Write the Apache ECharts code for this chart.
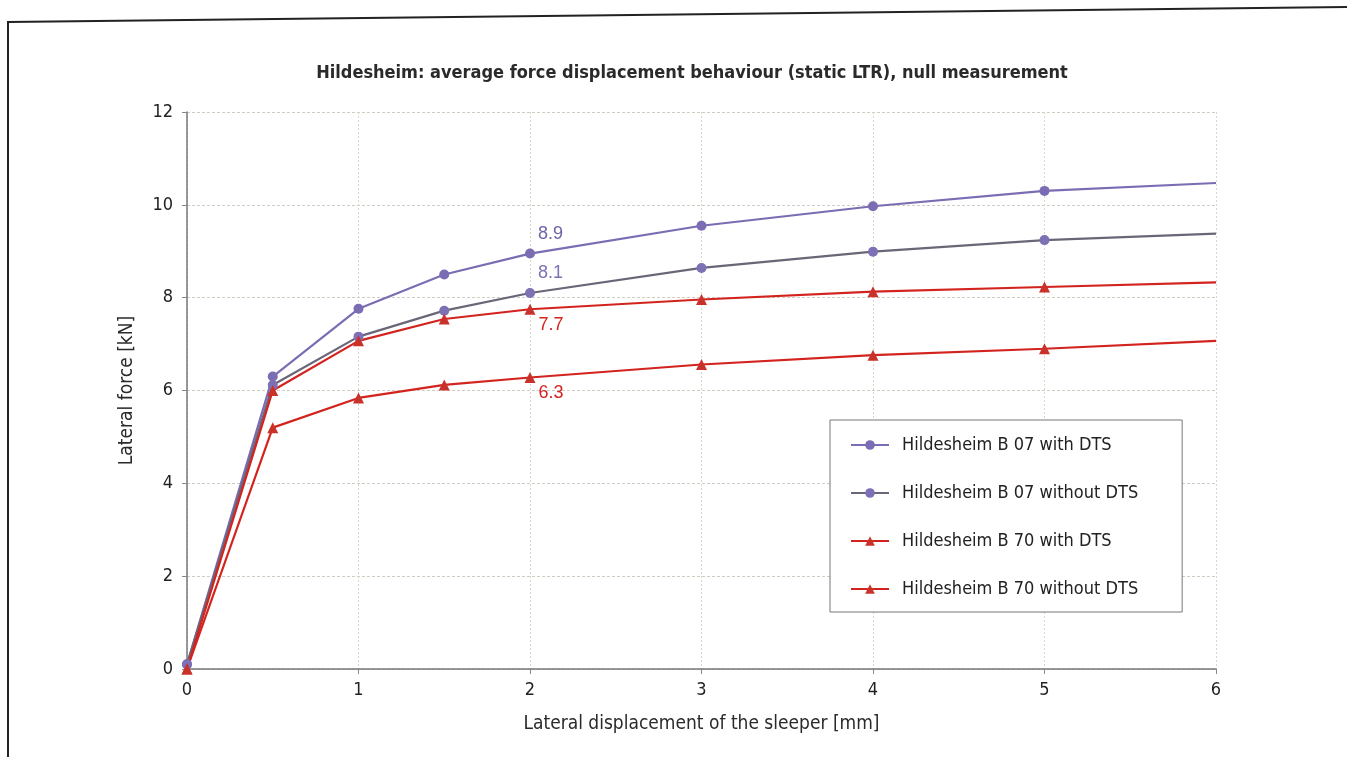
<!DOCTYPE html>
<html>
<head>
<meta charset="utf-8">
<script src="https://cdn.jsdelivr.net/npm/echarts@6/dist/echarts.min.js"></script>
<style>
  html, body { margin: 0; padding: 0; background: #fff; }
  #chart { width: 1347px; height: 757px; }
</style>
</head>
<body>
<div id="chart"></div>
<script>
const FONT = '"DejaVu Sans Condensed", "Liberation Sans", sans-serif';

// displacement [mm]
const displacement = [0, 0.5, 1, 1.5, 2, 3, 4, 5, 6];
const seriesNames = [
  'Hildesheim B 07 with DTS',
  'Hildesheim B 07 without DTS',
  'Hildesheim B 70 with DTS',
  'Hildesheim B 70 without DTS'
];
// lateral force [kN]
const b07With = [0.1, 6.3, 7.76, 8.5, 8.95, 9.55, 9.97, 10.3, 10.47];
const b07Without = [0.1, 6.12, 7.16, 7.72, 8.1, 8.64, 8.99, 9.24, 9.38];
const b70With = [0, 6.0, 7.07, 7.54, 7.75, 7.96, 8.13, 8.23, 8.33];
const b70Without = [0, 5.2, 5.84, 6.12, 6.28, 6.56, 6.76, 6.9, 7.07];
const labelIndex = 4;
const yTicks = [0, 2, 4, 6, 8, 10, 12];
const xTicks = [0, 1, 2, 3, 4, 5, 6];

const chart = echarts.init(document.getElementById('chart'));

function makeSeries(name, values, lineColor, markColor, symbol, labelText, labelDy, labelColor) {
  const last = values.length - 1;
  return {
    name: name,
    type: 'line',
    symbol: symbol,
    symbolSize: (v, p) => (p.dataIndex === last ? 0 : (symbol === 'circle' ? 10 : 11)),
    lineStyle: { color: lineColor, width: 2.2 },
    itemStyle: { color: markColor },
    data: displacement.map((x, i) => {
      const item = { value: [x, values[i]] };
      if (i === labelIndex) {
        item.label = {
          show: true,
          formatter: labelText,
          position: 'right',
          offset: [-2, labelDy],
          color: labelColor,
          fontSize: 18,
          fontFamily: '"Liberation Sans", Arial, sans-serif'
        };
      }
      return item;
    }),
    z: 3
  };
}

const option = {
  animation: false,
  backgroundColor: '#fff',
  title: {
    text: 'Hildesheim: average force displacement behaviour (static LTR), null measurement',
    left: 687,
    textAlign: 'center',
    top: 59,
    textStyle: { fontFamily: FONT, fontSize: 18, fontWeight: 'bold', color: '#2a2a2a' }
  },
  grid: { left: 187, right: 131, top: 112, bottom: 88 },
  legend: {
    orient: 'vertical',
    left: 830,
    top: 420,
    padding: [16, 44, 14, 20],
    itemGap: 30,
    itemWidth: 38,
    itemHeight: 12,
    borderColor: '#777',
    borderWidth: 1,
    backgroundColor: '#fff',
    textStyle: { fontFamily: FONT, fontSize: 18, color: '#222', padding: [0, 0, 0, 8] },
    data: seriesNames
  },
  xAxis: {
    type: 'value',
    min: xTicks[0],
    max: xTicks[xTicks.length - 1],
    interval: 1,
    name: 'Lateral displacement of the sleeper [mm]',
    nameLocation: 'middle',
    nameGap: 46,
    nameTextStyle: { fontFamily: FONT, fontSize: 19, color: '#2a2a2a' },
    axisLine: { lineStyle: { color: '#777', width: 1.5 } },
    axisTick: { show: true, length: 5, lineStyle: { color: '#888' } },
    axisLabel: { fontFamily: FONT, fontSize: 18, color: '#222', margin: 12 },
    splitLine: { show: true, lineStyle: { color: '#d9d6cc', type: [2, 2] } }
  },
  yAxis: {
    type: 'value',
    min: yTicks[0],
    max: yTicks[yTicks.length - 1],
    interval: 2,
    name: 'Lateral force [kN]',
    nameLocation: 'middle',
    nameGap: 50,
    nameTextStyle: { fontFamily: FONT, fontSize: 19, color: '#2a2a2a' },
    axisLine: { show: true, lineStyle: { color: '#777', width: 1.5 } },
    axisTick: { show: true, length: 5, lineStyle: { color: '#888' } },
    axisLabel: { fontFamily: FONT, fontSize: 18, color: '#222', margin: 14 },
    splitLine: { show: true, lineStyle: { color: '#cfccc2', type: [3, 2] } }
  },
  graphic: [
    {
      type: 'polyline',
      shape: { points: [[8, 757], [8, 22], [1347, 7]] },
      style: { stroke: '#222', lineWidth: 2, fill: null },
      silent: true
    }
  ],
  series: [
    makeSeries(seriesNames[0], b07With, '#7b6cb3', '#7b6cb3', 'circle', '8.9', -20, '#6f62a8'),
    makeSeries(seriesNames[1], b07Without, '#6a6677', '#7d70b5', 'circle', '8.1', -20, '#7d70b5'),
    makeSeries(seriesNames[2], b70With, '#d3231e', '#c8322a', 'triangle', '7.7', 16, '#d3231e'),
    makeSeries(seriesNames[3], b70Without, '#d3231e', '#c8322a', 'triangle', '6.3', 16, '#d3231e')
  ]
};

chart.setOption(option);
window.addEventListener('resize', () => chart.resize());
</script>
</body>
</html>
